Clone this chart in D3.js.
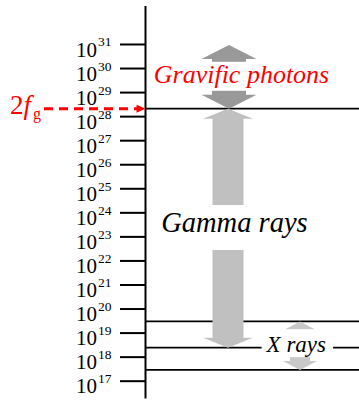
<!DOCTYPE html>
<html><head><meta charset="utf-8">
<script src="https://cdn.jsdelivr.net/npm/d3@7"></script>
<style>body{margin:0;background:#fff} svg{display:block}</style>
</head><body><svg id="c" width="359" height="401"></svg>
<script>
// ---- data ----
const tickExponents = [17,18,19,20,21,22,23,24,25,26,27,28,29,30,31];
const axisExtentExponents = [16.28, 32.6];
const boundaryValues = [2.05e28, 2.9e19, 2.35e18, 2.8e17];
const bandNames = ["Gravific photons", "Gamma rays", "X rays"];
const bandFrom = [9.1e30, 2.05e28, 2.9e19];
const bandTo = [2.05e28, 2.35e18, 2.8e17];
const markerValues = [2.05e28];
const markerLabels = [["2", "f", "g"]];

// ---- font detection ----
const candidates = ["Liberation Serif", "Times New Roman", "Tinos", "Noto Serif", "DejaVu Serif", "FreeSerif", "Nimbus Roman", "Times"];
const cv = document.createElement("canvas").getContext("2d");
function w(f) { cv.font = "40px " + f; return cv.measureText("Gravific photons 1029").width; }
const baseMono = w("monospace"), baseSans = w("sans-serif");
let found = candidates.find(c => w(`"${c}", monospace`) !== baseMono && w(`"${c}", sans-serif`) !== baseSans);
const font = found ? `"${found}", serif` : "serif";

// ---- drawing ----
const svg = d3.select("#c");
const y = d3.scaleLog()
  .domain(axisExtentExponents.map(e => Math.pow(10, e)))
  .range([398, 5.5]);
const axisX = 145;

svg.append("g").selectAll("line").data(boundaryValues).join("line")
  .attr("x1", axisX).attr("x2", 359)
  .attr("y1", d => y(d)).attr("y2", d => y(d))
  .attr("stroke", "#000").attr("stroke-width", 1.8);

const arrowStyle = [
  {cx: 229, head: 14, headHalf: 27.5, shaftHalf: 17, color: "#999999"},
  {cx: 228, head: 10, headHalf: 25, shaftHalf: 15.5, color: "#c0c0c0"},
  {cx: 300, head: 9, headHalf: 17, shaftHalf: 10, color: "#c8c8c8"}
];
function arrowPath(cx, y1, y2, h, hw, sw) {
  return d3.line()([
    [cx, y1], [cx + hw, y1 + h], [cx + sw, y1 + h], [cx + sw, y2 - h],
    [cx + hw, y2 - h], [cx, y2], [cx - hw, y2 - h], [cx - sw, y2 - h],
    [cx - sw, y1 + h], [cx - hw, y1 + h]
  ]) + "Z";
}
svg.append("g").selectAll("path").data(bandNames).join("path")
  .attr("d", (d, i) => {
    const s = arrowStyle[i];
    return arrowPath(s.cx, y(bandFrom[i]), y(bandTo[i]), s.head, s.headHalf, s.shaftHalf);
  })
  .attr("fill", (d, i) => arrowStyle[i].color);

const labelStyle = [
  {x: 241.5, dy: 6, size: 26, color: "#ff0000", padL: 2, padR: 2, top: 21, bottom: 8},
  {x: 234.4, dy: 3.5, size: 28.5, color: "#000", padL: 2, padR: 2, top: 26.7, bottom: 18.3},
  {x: 296.3, dy: 6.5, size: 23, color: "#000", padL: 4, padR: 7, top: 23, bottom: 5}
];
const lg = svg.append("g");
bandNames.forEach((name, i) => {
  const s = labelStyle[i];
  const mid = (y(bandFrom[i]) + y(bandTo[i])) / 2;
  const base = mid + s.dy;
  const rect = lg.append("rect").attr("fill", "#fff");
  const t = lg.append("text")
    .attr("x", s.x).attr("y", base)
    .attr("text-anchor", "middle")
    .style("font-family", font).style("font-style", "italic")
    .attr("font-size", s.size).attr("fill", s.color)
    .text(name);
  const bb = t.node().getBBox();
  rect.attr("x", bb.x - s.padL).attr("width", bb.width + s.padL + s.padR)
    .attr("y", base - s.top).attr("height", s.top + s.bottom);
});

const axis = d3.axisLeft(y)
  .tickValues(tickExponents.map(e => Math.pow(10, e)))
  .tickSize(25).tickSizeOuter(0).tickFormat("");
const ag = svg.append("g").attr("transform", `translate(${axisX},0)`).call(axis);
ag.select(".domain").attr("stroke", "#000").attr("stroke-width", 2);
ag.selectAll(".tick line").attr("stroke", "#000").attr("stroke-width", 2);
ag.selectAll(".tick text").remove();

const tl = svg.append("g").attr("fill", "#000").style("font-family", font);
tickExponents.forEach(e => {
  const ty = y(Math.pow(10, e));
  tl.append("text").attr("x", 97).attr("y", ty + 12.7)
    .attr("text-anchor", "end").attr("font-size", 21).text("10");
  tl.append("text").attr("x", 98).attr("y", ty + 2.5)
    .attr("font-size", 13.5).text(String(e));
});

markerValues.forEach((v, i) => {
  const my = y(v);
  const parts = markerLabels[i];
  const mg = svg.append("g");
  mg.append("line").attr("x1", 44).attr("x2", 138).attr("y1", my).attr("y2", my)
    .attr("stroke", "#ff0000").attr("stroke-width", 3).attr("stroke-dasharray", "9,6");
  mg.append("path").attr("d", d3.line()([[136.5, my - 4], [145.5, my], [136.5, my + 4]]) + "Z")
    .attr("fill", "#ff0000");
  const t = mg.append("text").attr("x", 10).attr("y", my + 5.3)
    .style("font-family", font).attr("font-size", 27).attr("fill", "#ff0000");
  t.append("tspan").text(parts[0]);
  t.append("tspan").style("font-style", "italic").text(parts[1]);
  t.append("tspan").attr("font-size", 16).attr("dx", 2).attr("dy", 5.5).text(parts[2]);
});
</script></body></html>
